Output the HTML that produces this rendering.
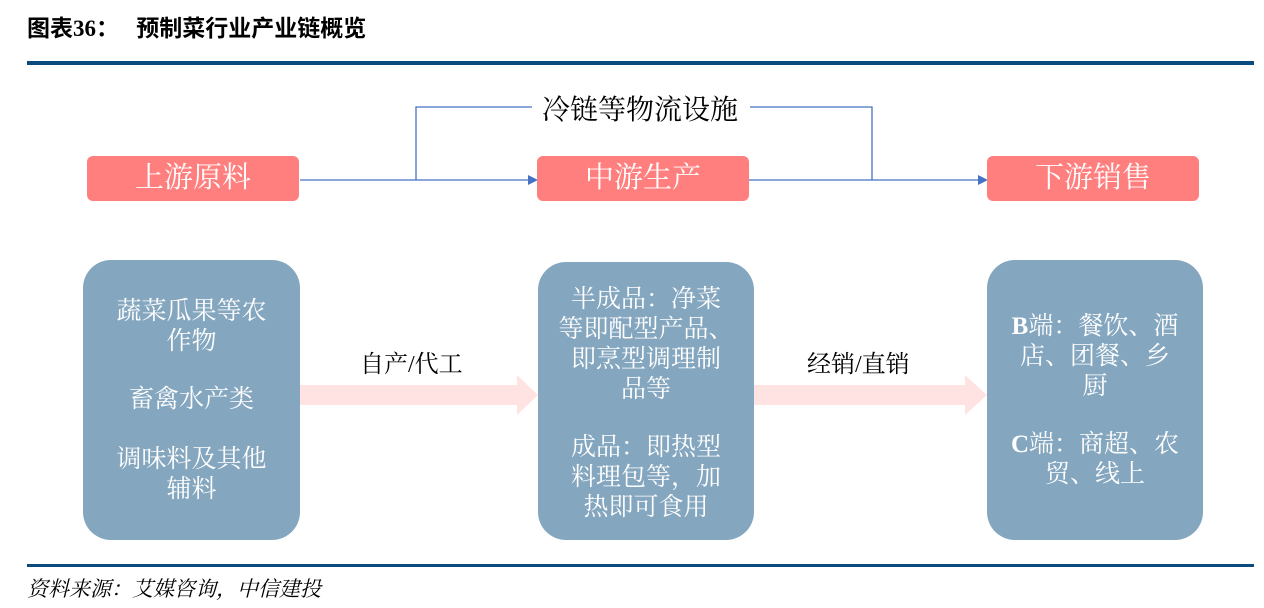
<!DOCTYPE html>
<html><head><meta charset="utf-8"><style>
body{margin:0;width:1264px;height:608px;background:#fff;position:relative;overflow:hidden;font-family:"Liberation Serif","Noto Serif CJK SC",serif;}
.a{position:absolute;}
.pk{position:absolute;background:#ff7f7f;border-radius:6px;color:#fff;font-size:29px;text-align:center;line-height:45px;height:45px;}
.bl{position:absolute;background:#84a6bf;border-radius:28px;color:#fff;font-size:25px;text-align:center;line-height:30px;}
</style></head><body>
<div class="a" style="left:27px;top:9px;font-size:23px;font-weight:bold;font-family:'Liberation Serif','Noto Sans CJK SC',serif;">图表36：&nbsp;&nbsp;&nbsp;预制菜行业产业链概览</div>
<div class="a" style="left:27px;top:61px;width:1227px;height:4px;background:#0b4a7d"></div>
<div class="a" style="left:27px;top:564px;width:1227px;height:3px;background:#0b4a7d"></div>
<div class="a" style="left:27px;top:573px;font-size:21px;font-style:italic;">资料来源：艾媒咨询，中信建投</div>
<svg class="a" style="left:0;top:0" width="1264" height="608">
<g stroke="#4472c4" stroke-width="1.3" fill="none">
<path d="M300 180H528"/><path d="M416 180V107H532"/><path d="M750 107H872V180"/><path d="M749 180H978"/>
</g>
<path d="M528 175L538 180L528 185Z" fill="#4472c4"/><path d="M978 175L988 180L978 185Z" fill="#4472c4"/>
<path d="M300 385H517V375L538 395L517 415V405H300Z" fill="#ffe3e3"/>
<path d="M754 385H965V375L987 395L965 415V405H754Z" fill="#ffe3e3"/>
</svg>
<div class="a" style="left:542px;top:88px;font-size:28px;">冷链等物流设施</div>
<div class="pk" style="left:87px;top:156px;width:212px;">上游原料</div>
<div class="pk" style="left:537px;top:156px;width:212px;">中游生产</div>
<div class="pk" style="left:987px;top:156px;width:212px;">下游销售</div>
<div class="a" style="left:360px;top:344px;font-size:24px;">自产/代工</div>
<div class="a" style="left:807px;top:344px;font-size:24px;">经销/直销</div>
<div class="bl" style="left:83px;top:260px;width:217px;height:280px;"><div style="margin-top:37px">蔬菜瓜果等农<br>作物<br><div style="height:28px"></div>畜禽水产类<br><div style="height:30px"></div>调味料及其他<br>辅料</div></div>
<div class="bl" style="left:538px;top:262px;width:216px;height:278px;"><div style="margin-top:23px">半成品：净菜<br>等即配型产品、<br>即烹型调理制<br>品等<br><div style="height:28px"></div>成品：即热型<br>料理包等，加<br>热即可食用</div></div>
<div class="bl" style="left:987px;top:260px;width:216px;height:280px;"><div style="margin-top:52px"><b>B</b>端：餐饮、酒<br>店、团餐、乡<br>厨<br><div style="height:28px"></div><b>C</b>端：商超、农<br>贸、线上</div></div>
</body></html>
